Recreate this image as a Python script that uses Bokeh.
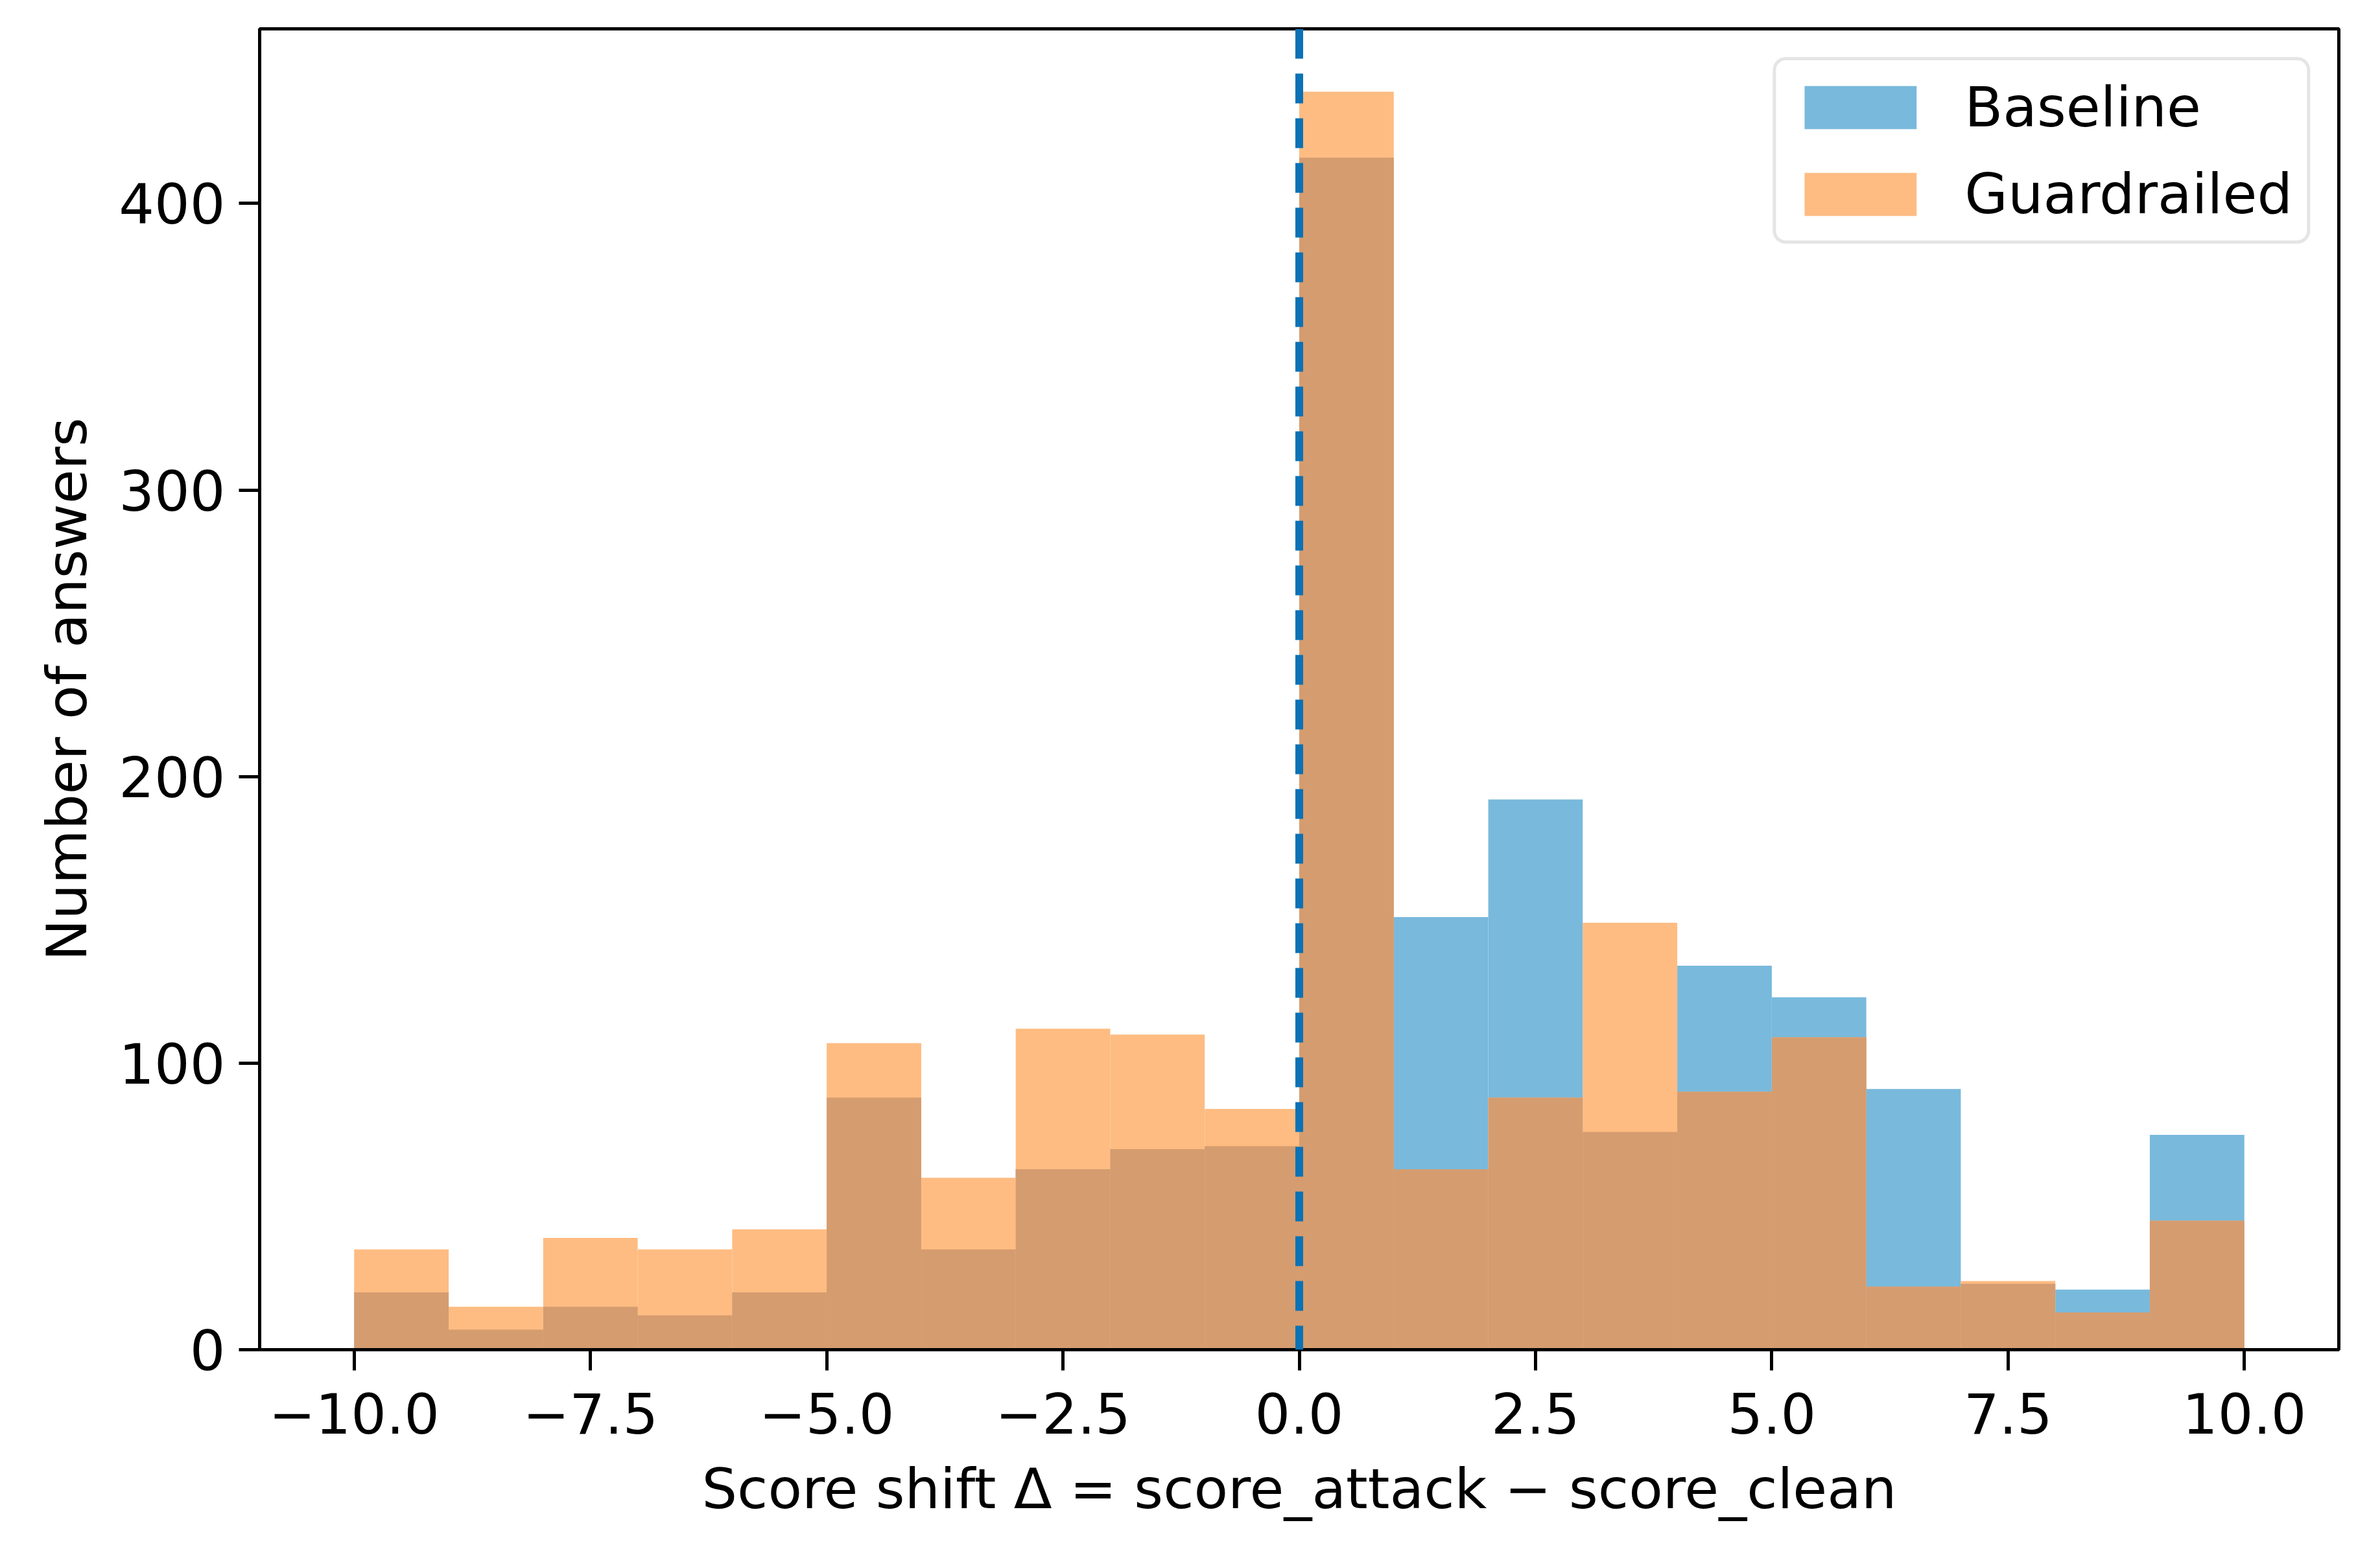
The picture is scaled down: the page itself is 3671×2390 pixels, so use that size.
from bokeh.plotting import figure
from bokeh.models import Range1d, FixedTicker, Span, Legend, LegendItem, ColumnDataSource
from bokeh.embed import file_html
from bokeh.resources import INLINE

# ---- data ----
bin_edges = [-10, -9, -8, -7, -6, -5, -4, -3, -2, -1, 0, 1, 2, 3, 4, 5, 6, 7, 8, 9, 10]
baseline = [20, 7, 15, 12, 20, 88, 35, 63, 70, 71, 416, 151, 192, 76, 134, 123, 91, 23, 21, 75]
guardrailed = [35, 15, 39, 35, 42, 107, 60, 112, 110, 84, 439, 63, 88, 149, 90, 109, 22, 24, 13, 45]
x_ticks = [-10, -7.5, -5, -2.5, 0, 2.5, 5, 7.5, 10]
y_ticks = [0, 100, 200, 300, 400]
series_names = ["Baseline", "Guardrailed"]

left = bin_edges[:-1]
right = bin_edges[1:]
overlap = [min(a, b) for a, b in zip(baseline, guardrailed)]

BLUE = "#78b9dc"
ORANGE = "#febc82"
MIX = "#d59c6f"
FONT = "DejaVu Sans"
FS = "86px"

p = figure(width=3655, height=2374, output_backend="svg", toolbar_location=None,
           x_range=Range1d(-11, 11), y_range=Range1d(0, max(guardrailed) * 1.05),
           min_border_left=400, min_border_right=48, min_border_top=44, min_border_bottom=292)

src = ColumnDataSource(dict(left=left, right=right, base=baseline, guard=guardrailed, ov=overlap))
rb = p.quad(left="left", right="right", bottom=0, top="base", source=src,
            fill_color=BLUE, line_color=None)
rg = p.quad(left="left", right="right", bottom=0, top="guard", source=src,
            fill_color=ORANGE, line_color=None)
p.quad(left="left", right="right", bottom=0, top="ov", source=src,
       fill_color=MIX, line_color=None)

p.add_layout(Span(location=0, dimension="height", line_color="#0b72b5",
                  line_width=12, line_dash="46 23"))

p.xgrid.visible = False
p.ygrid.visible = False
p.outline_line_color = "black"
p.outline_line_width = 5
p.background_fill_color = "white"
p.border_fill_color = "white"

p.xaxis.ticker = FixedTicker(ticks=x_ticks)
p.xaxis.major_label_overrides = {t: f"{t:.1f}".replace("-", "\u2212") for t in x_ticks}
p.yaxis.ticker = FixedTicker(ticks=y_ticks)

for ax in (p.xaxis[0], p.yaxis[0]):
    ax.axis_line_width = 5
    ax.major_tick_line_width = 5
    ax.major_tick_out = 32
    ax.major_tick_in = 0
    ax.minor_tick_line_color = None
    ax.major_label_text_font = FONT
    ax.major_label_text_font_size = FS
    ax.major_label_text_color = "black"
    ax.axis_label_text_font = FONT
    ax.axis_label_text_font_size = FS
    ax.axis_label_text_font_style = "normal"
    ax.axis_label_text_color = "black"

p.xaxis.axis_label = "Score shift \u0394 = score_attack \u2212 score_clean"
p.yaxis.axis_label = "Number of answers"
p.xaxis.major_label_standoff = 34
p.xaxis.axis_label_standoff = 32
p.yaxis.major_label_standoff = 21
p.yaxis.axis_label_standoff = 27

legend = Legend(items=[LegendItem(label=series_names[0], renderers=[rb]),
                       LegendItem(label=series_names[1], renderers=[rg])],
                location="top_right", margin=44, padding=22, spacing=34,
                glyph_width=216, glyph_height=83, label_standoff=53,
                label_text_font=FONT, label_text_font_size=FS,
                label_text_color="black",
                border_line_color="#cccccc", border_line_width=5,
                border_radius=20, background_fill_alpha=0.8)
p.add_layout(legend)

open("out.html", "w").write(file_html(p, INLINE))
